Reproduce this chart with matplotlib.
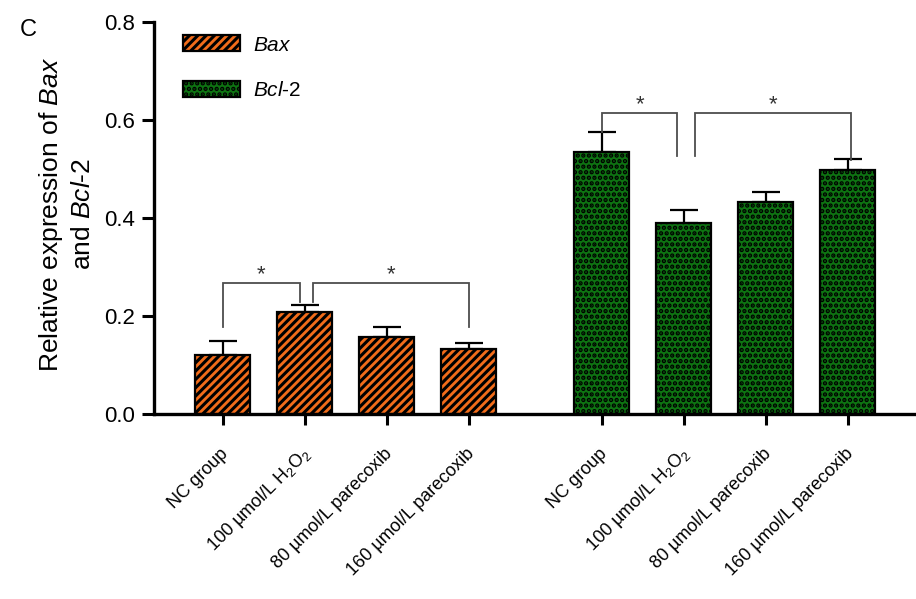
import matplotlib
matplotlib.use("Agg")
import matplotlib.pyplot as plt
import matplotlib.transforms as mtransforms
import numpy as np

plt.rcParams["font.family"] = ["Liberation Sans", "DejaVu Sans"]
plt.rcParams["mathtext.fontset"] = "custom"
plt.rcParams["mathtext.rm"] = "Liberation Sans"
plt.rcParams["mathtext.it"] = "Liberation Sans:italic"
plt.rcParams["hatch.linewidth"] = 2.2

# ── data ──
groups = ["NC group", "100 µmol/L H$_2$O$_2$",
          "80 µmol/L parecoxib", "160 µmol/L parecoxib"]
bax_mean = [0.120, 0.208, 0.157, 0.133]
bax_err = [0.029, 0.014, 0.021, 0.012]
bcl2_mean = [0.535, 0.390, 0.433, 0.498]
bcl2_err = [0.040, 0.026, 0.020, 0.022]

# significance brackets: (left x, right x, top, left leg bottom, right leg bottom)
bax_sig = [(0.0, 0.94, 0.267, 0.178, 0.229),
           (1.10, 3.0, 0.267, 0.229, 0.178)]
bcl2_sig = [(0.0, 0.92, 0.614, 0.575, 0.527),
            (1.14, 3.04, 0.614, 0.527, 0.518)]

ORANGE = "#f26c1a"
GREEN = "#0e7312"
BRACKET = "#4d4d4d"

GAP = 4.62  # offset of the Bcl-2 group
x_bax = np.arange(len(groups), dtype=float)
x_bcl = x_bax + GAP
WIDTH = 0.67

fig = plt.figure(figsize=(9.16, 5.99), dpi=100)
ax = fig.add_axes([154 / 916, 1 - 414 / 599, 762 / 916, 392 / 599])

ax.bar(x_bax, bax_mean, WIDTH, color=ORANGE, edgecolor="black",
       linewidth=1.6, hatch="////", label="$\\mathit{Bax}$", zorder=2)
ax.bar(x_bcl, bcl2_mean, WIDTH, color=GREEN, edgecolor="black",
       linewidth=1.6, hatch="...", label="$\\mathit{Bcl}$-$\\mathit{2}$", zorder=2)

for xs, m, e in ((x_bax, bax_mean, bax_err), (x_bcl, bcl2_mean, bcl2_err)):
    ax.errorbar(xs, m, yerr=[np.zeros(len(m)), e], fmt="none", ecolor="black",
                elinewidth=1.6, capsize=10, capthick=1.6, zorder=1)

for base, sigs in ((x_bax[0], bax_sig), (x_bcl[0], bcl2_sig)):
    for xl, xr, top, yl, yr in sigs:
        ax.plot([base + xl, base + xl, base + xr, base + xr], [yl, top, top, yr],
                color=BRACKET, linewidth=1.3, zorder=3, solid_joinstyle="miter")
        ax.text(base + (xl + xr) / 2, top - 0.004, "*", ha="center",
                va="bottom", fontsize=16, color="#333333")

ax.set_ylim(0, 0.8)
ax.set_xlim(-0.84, 8.45)
ax.set_yticks([0.0, 0.2, 0.4, 0.6, 0.8])
ax.set_yticklabels(["0.0", "0.2", "0.4", "0.6", "0.8"])
ax.set_xticks(np.concatenate([x_bax, x_bcl]))
ax.set_xticklabels(groups + groups, rotation=45, ha="right", va="center",
                   rotation_mode="anchor", fontsize=13)
ax.tick_params(axis="y", length=8.5, width=2.2, labelsize=16, pad=5)
ax.tick_params(axis="x", length=8, width=2.2, pad=19)
shift = mtransforms.ScaledTranslation(3 / 100, 0, fig.dpi_scale_trans)
for lab in ax.get_xticklabels():
    lab.set_transform(lab.get_transform() + shift)

for s in ("top", "right"):
    ax.spines[s].set_visible(False)
for s in ("left", "bottom"):
    ax.spines[s].set_linewidth(2.4)

ax.legend(loc="upper left", bbox_to_anchor=(0.038, 0.966), frameon=False,
          fontsize=15, handlelength=2.75, handleheight=0.8, handletextpad=0.6,
          labelspacing=1.25, borderpad=0, borderaxespad=0)

fig.text(66 / 916, 1 - 214 / 599,
         "Relative expression of $\\mathit{Bax}$\nand $\\mathit{Bcl}$-$\\mathit{2}$",
         rotation=90, ha="center", va="center", multialignment="center",
         fontsize=19, linespacing=1.3)
fig.text(28 / 916, 1 - 30 / 599, "C", ha="center", va="center", fontsize=17)

fig.savefig("out.png", dpi=100)
